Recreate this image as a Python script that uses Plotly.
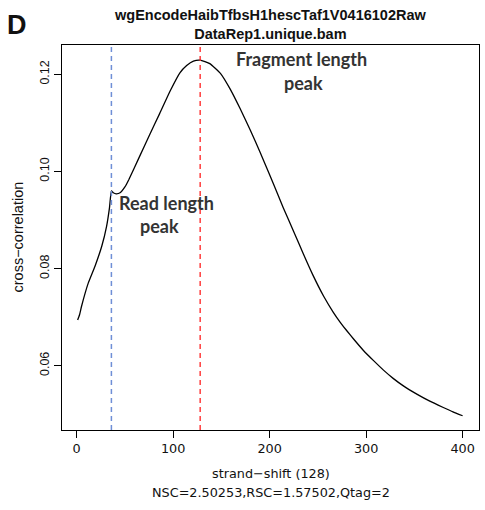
import plotly.graph_objects as go

# strand shift (x) and cross-correlation (y)
shift = [1, 3, 5, 12, 19, 26, 31, 34, 36, 38, 41, 45, 50, 54, 65, 76, 86, 97, 107,
         114, 121, 128, 138, 149, 159, 169, 180, 190, 199, 204, 214, 225, 235, 245,
         256, 266, 273, 280, 287, 297, 308, 318, 328, 339, 353, 366, 380, 390, 400]
corr = [0.0694, 0.0705, 0.0722, 0.0770, 0.0805, 0.0846, 0.0887, 0.0925, 0.0960,
        0.0956, 0.0954, 0.0956, 0.0968, 0.0983, 0.1030, 0.1077, 0.1119, 0.1166,
        0.1203, 0.1218, 0.1227, 0.1229, 0.1222, 0.1202, 0.1170, 0.1131, 0.1085,
        0.1040, 0.0998, 0.0974, 0.0926, 0.0876, 0.0830, 0.0786, 0.0743, 0.0710,
        0.0690, 0.0672, 0.0655, 0.0632, 0.0610, 0.0591, 0.0574, 0.0558, 0.0541,
        0.0527, 0.0514, 0.0505, 0.0497]

read_length = 36
fragment_length = 128
x_ticks = [0, 100, 200, 300, 400]
y_ticks = [0.06, 0.08, 0.10, 0.12]
y_tick_labels = ["0.06", "0.08", "0.10", "0.12"]

title_line1 = "wgEncodeHaibTfbsH1hescTaf1V0416102Raw"
title_line2 = "DataRep1.unique.bam"
x_title = "strand\u2212shift (128)"
x_subtitle = "NSC=2.50253,RSC=1.57502,Qtag=2"
y_title = "cross\u2212correlation"

fig = go.Figure()
fig.add_trace(go.Scatter(x=shift, y=corr, mode="lines",
                         line=dict(color="black", width=1.3, shape="spline", smoothing=0.4),
                         showlegend=False))

fig.add_shape(type="line", xref="x", yref="paper", x0=read_length, x1=read_length,
              y0=0, y1=1, line=dict(color="#6f8fd6", width=1.5, dash="5px,4px"))
fig.add_shape(type="line", xref="x", yref="paper", x0=fragment_length, x1=fragment_length,
              y0=0, y1=1, line=dict(color="#ff2020", width=1.3, dash="5px,4px"))

base = "Liberation Sans, Arial, sans-serif"
wide = "DejaVu Sans, Verdana, sans-serif"
lab = "Lato, Open Sans, sans-serif"
ann = []
ann.append(dict(text="<b>" + title_line1 + "<br>" + title_line2 + "</b>",
                xref="paper", yref="paper", x=0.5, y=1, yshift=20.5,
                showarrow=False, xanchor="center", yanchor="middle", align="center",
                font=dict(family=base, size=14.5, color="#111")))
ann.append(dict(text="<b>D</b>", xref="paper", yref="paper", x=0, xshift=-45, y=1, yshift=20,
                showarrow=False, xanchor="center", yanchor="middle",
                font=dict(family=base, size=27, color="#111")))
ann.append(dict(text=x_title, xref="paper", yref="paper", x=0.5, y=0, yshift=-43,
                showarrow=False, xanchor="center", yanchor="middle",
                font=dict(family=wide, size=12.8, color="#111")))
ann.append(dict(text=x_subtitle, xref="paper", yref="paper", x=0.5, y=0, yshift=-62,
                showarrow=False, xanchor="center", yanchor="middle",
                font=dict(family=wide, size=12.8, color="#111")))
ann.append(dict(text=y_title, xref="paper", yref="paper", x=0, xshift=-45, y=0.5,
                textangle=-90, showarrow=False, xanchor="center", yanchor="middle",
                font=dict(family=base, size=14.5, color="#111")))
ann.append(dict(text="<b>Fragment length</b>", xref="x", yref="y", x=232.7, y=0.1231,
                showarrow=False, xanchor="center", yanchor="middle",
                font=dict(family=lab, size=18, color="#333")))
ann.append(dict(text="<b>peak</b>", xref="x", yref="y", x=234.7, y=0.1182,
                showarrow=False, xanchor="center", yanchor="middle",
                font=dict(family=lab, size=18, color="#333")))
ann.append(dict(text="<b>Read length</b>", xref="x", yref="y", x=92.6, y=0.0936,
                showarrow=False, xanchor="center", yanchor="middle",
                font=dict(family=lab, size=18, color="#333")))
ann.append(dict(text="<b>peak</b>", xref="x", yref="y", x=85.9, y=0.0888,
                showarrow=False, xanchor="center", yanchor="middle",
                font=dict(family=lab, size=18, color="#333")))

fig.update_layout(
    width=485, height=510,
    margin=dict(l=62, r=6, t=45, b=80),
    paper_bgcolor="white", plot_bgcolor="white",
    annotations=ann,
    xaxis=dict(range=[-15.2, 417], tickvals=x_ticks, ticks="outside", ticklen=7,
               tickwidth=1, tickcolor="black", showline=True, mirror=True,
               linecolor="black", linewidth=1, showgrid=False, zeroline=False,
               tickfont=dict(family=wide, size=12.8, color="#111")),
    yaxis=dict(range=[0.04677, 0.12603], tickvals=y_ticks, ticktext=y_tick_labels,
               ticks="outside", ticklen=7, tickwidth=1, tickcolor="black",
               tickangle=-90, showline=True, mirror=True, linecolor="black",
               linewidth=1, showgrid=False, zeroline=False,
               tickfont=dict(family=base, size=12.5, color="#111")),
)

fig.write_html("out.html")
